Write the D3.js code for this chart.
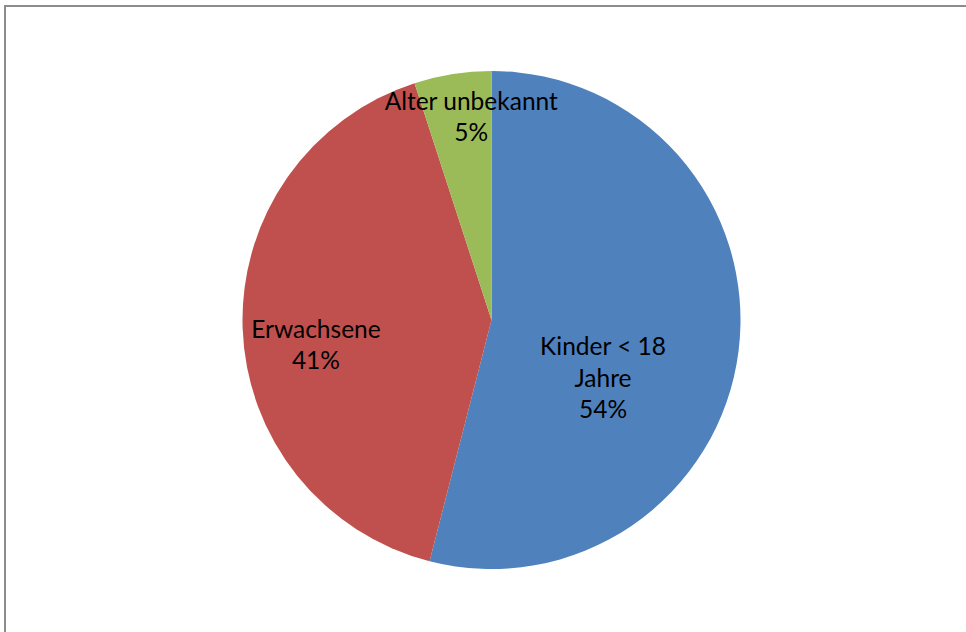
<!DOCTYPE html>
<html>
<head>
<meta charset="utf-8">
<script src="https://cdn.jsdelivr.net/npm/d3@7"></script>
<style>
  html, body { margin: 0; padding: 0; background: #fff; }
  svg { display: block; }
</style>
</head>
<body>
<script>
// Age groups and their shares (percent)
const categories = ["Kinder < 18 Jahre", "Erwachsene", "Alter unbekannt"];
const values = [54, 41, 5];
const labelLines = [["Kinder < 18", "Jahre", "54%"], ["Erwachsene", "41%"], ["Alter unbekannt", "5%"]];
const colors = ["#4f81bd", "#c0504d", "#9bbb59"];

const W = 966, H = 632;
const cx = 491.5, cy = 320, R = 249;

const svg = d3.select("body").append("svg").attr("width", W).attr("height", H);

// chart frame
svg.append("rect")
  .attr("x", 5).attr("y", 6).attr("width", W + 20).attr("height", H + 20)
  .attr("fill", "#fff").attr("stroke", "#8c8c8c").attr("stroke-width", 2);

const pie = d3.pie().sort(null).value(d => d)(values);
const arc = d3.arc().innerRadius(0).outerRadius(R);

const g = svg.append("g").attr("transform", `translate(${cx},${cy})`);
g.selectAll("path").data(pie).join("path")
  .attr("d", arc)
  .attr("fill", (d, i) => colors[i]);

// label placement inside each slice: angle (deg, clockwise from top) and radius fraction
const labelAngle = [117.5, 262, 354.3];
const labelRadius = [0.505, 0.712, 0.82];
const lineH = 31.5;
const fontSize = 24.5;

g.selectAll("text.lbl").data(pie).join("text")
  .attr("class", "lbl")
  .attr("font-family", "Lato, 'Open Sans', sans-serif")
  .attr("font-size", fontSize)
  .attr("fill", "#000")
  .attr("text-anchor", "middle")
  .each(function (d, i) {
    const a = labelAngle[i] * Math.PI / 180;
    const r = R * labelRadius[i];
    const x = Math.sin(a) * r;
    const y = -Math.cos(a) * r;
    const lines = labelLines[i];
    const t = d3.select(this);
    lines.forEach((ln, k) => {
      t.append("tspan")
        .attr("x", x)
        .attr("y", y + (k - (lines.length - 1) / 2) * lineH)
        .attr("dy", "0.35em")
        .text(ln);
    });
  });
</script>
</body>
</html>
